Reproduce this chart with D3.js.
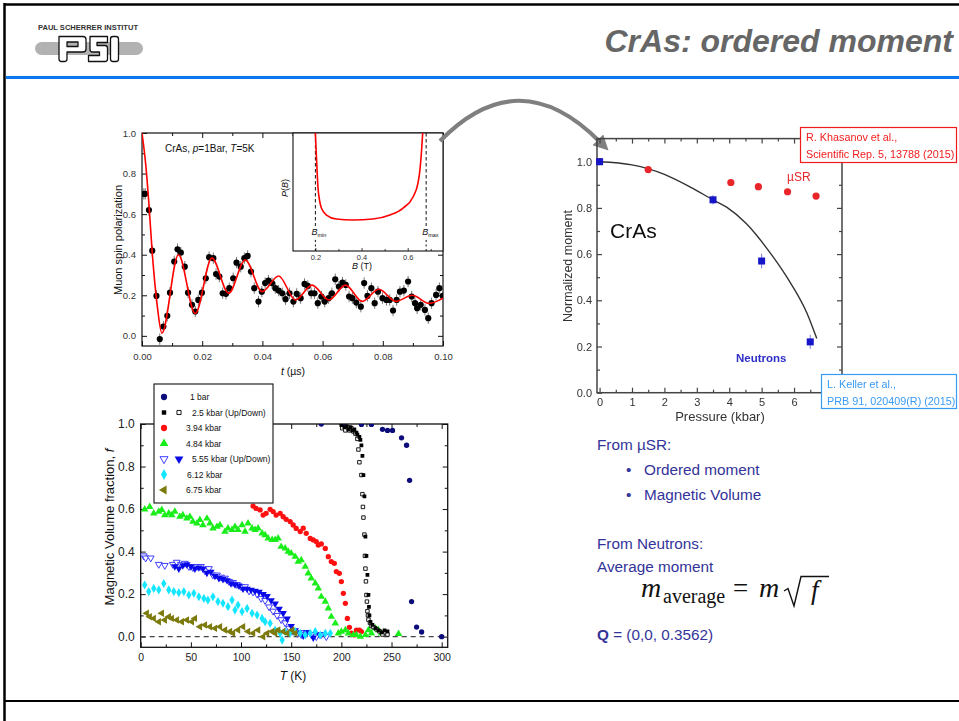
<!DOCTYPE html>
<html><head><meta charset="utf-8">
<script src="https://cdn.jsdelivr.net/npm/d3@7"></script>
<style>
body{margin:0;background:#fff;}
svg{display:block;}
text{font-family:"Liberation Sans",Arial,Helvetica,sans-serif;}
text.serif{font-family:"Liberation Serif","DejaVu Serif",serif;}
</style></head><body>
<svg id="slide" width="959" height="721"></svg>
<script>
// ---------- muon spin polarization, CrAs, p = 1 bar, T = 5 K ----------
const muonData = [[0.0006,0.70],[0.0011,0.70],[0.0023,0.62],[0.0034,0.42],[0.0048,0.197],[0.0059,-0.016],[0.0071,0.046],[0.0084,0.099],[0.0093,0.213],[0.0107,0.366],[0.0118,0.427],[0.0129,0.41],[0.0142,0.341],[0.0153,0.213],[0.0166,0.153],[0.0177,0.12],[0.0187,0.177],[0.0199,0.213],[0.0212,0.284],[0.0223,0.388],[0.0237,0.383],[0.0246,0.305],[0.0257,0.292],[0.0268,0.21],[0.0279,0.207],[0.029,0.235],[0.0303,0.284],[0.0314,0.361],[0.0328,0.341],[0.034,0.383],[0.0351,0.394],[0.0362,0.317],[0.0373,0.235],[0.0387,0.169],[0.0398,0.218],[0.0409,0.26],[0.042,0.272],[0.0432,0.26],[0.0443,0.235],[0.0454,0.223],[0.0466,0.21],[0.0477,0.181],[0.049,0.21],[0.0503,0.169],[0.0514,0.207],[0.0527,0.186],[0.054,0.256],[0.0551,0.246],[0.0562,0.21],[0.0573,0.21],[0.0584,0.161],[0.0596,0.194],[0.0607,0.169],[0.062,0.186],[0.0631,0.21],[0.0642,0.279],[0.0654,0.243],[0.0666,0.263],[0.0677,0.251],[0.0688,0.194],[0.0699,0.186],[0.0712,0.164],[0.0727,0.144],[0.0738,0.26],[0.0749,0.197],[0.0762,0.235],[0.0773,0.161],[0.0784,0.218],[0.0799,0.186],[0.0812,0.177],[0.0823,0.177],[0.0834,0.125],[0.0846,0.177],[0.0857,0.218],[0.087,0.223],[0.0884,0.268],[0.0896,0.194],[0.0907,0.161],[0.0914,0.136],[0.0926,0.153],[0.094,0.128],[0.0951,0.087],[0.0962,0.161],[0.0977,0.202],[0.0988,0.235],[0.0999,0.197]];
const muonFit = [[0,1.0],[0.0012,0.85],[0.0023,0.65],[0.0034,0.41],[0.0051,0.144],[0.0066,0.013],[0.0121,0.40],[0.0177,0.11],[0.0232,0.383],[0.0288,0.21],[0.0343,0.374],[0.0399,0.218],[0.0454,0.295],[0.051,0.177],[0.0565,0.25],[0.0621,0.177],[0.0676,0.25],[0.0732,0.17],[0.0787,0.23],[0.0843,0.17],[0.0898,0.20],[0.0954,0.16],[0.1,0.186]];
const muonTimeTicks = [0, 0.02, 0.04, 0.06, 0.08, 0.10];
const muonPolTicks = [0, 0.2, 0.4, 0.6, 0.8, 1.0];

// ---------- inset: internal field distribution P(B) ----------
const fieldDist = [[0.2,1.0],[0.205,0.78],[0.211,0.545],[0.218,0.43],[0.226,0.364],[0.248,0.305],[0.291,0.271],[0.362,0.263],[0.449,0.271],[0.523,0.305],[0.58,0.364],[0.623,0.458],[0.645,0.58],[0.653,0.686],[0.66,0.85],[0.665,1.0]];
const fieldTicks = [0.2, 0.4, 0.6];
const bMin = 0.2, bMax = 0.68;

// ---------- normalized ordered moment vs pressure ----------
const neutronPressure = [0, 3.5, 5.0, 6.5];
const neutronMoment = [1.0, 0.835, 0.57, 0.22];
const neutronError = [0.008, 0.02, 0.032, 0.03];
const musrPressure = [0, 1.5, 4.05, 4.9, 5.8, 6.68];
const musrMoment = [1.0, 0.966, 0.91, 0.892, 0.87, 0.851];
const guidePressure = [0, 1.0, 2.0, 2.8, 3.5, 3.92, 4.54, 5.16, 5.78, 6.4, 6.7];
const guideMoment = [1.0, 0.986, 0.945, 0.89, 0.835, 0.803, 0.73, 0.625, 0.5, 0.344, 0.235];
const pressureTicks = [0, 1, 2, 3, 4, 5, 6, 7];
const pressureLabels = ["0", "1", "2", "3", "4", "5", "6", ""];
const momentTicks = [0, 0.2, 0.4, 0.6, 0.8, 1.0];

// ---------- magnetic volume fraction vs temperature ----------
const seriesLabels = ["1 bar", "2.5 kbar (Up/Down)", "3.94 kbar", "4.84 kbar", "5.55 kbar (Up/Down)", "6.12 kbar", "6.75 kbar"];
const vf1bar = [[180,1.0],[201,1.0],[220,0.998],[230,0.998],[241,0.975],[246,0.97],[251,0.97],[260,0.935],[265,0.90],[268,0.735],[270,0.165],[275,0.045],[280,0.022],[300,0.0]];
const vf2p5Up = [[200,0.995],[203,0.985],[205,0.99],[207,0.975],[209,0.985],[211,0.97],[213,0.975],[215,0.96],[216,0.95],[218,0.94],[219,0.925],[220,0.90],[221,0.85],[222,0.76],[223,0.66],[224,0.47],[225,0.38],[226,0.29],[227,0.196],[227.5,0.14],[228,0.10],[229,0.07],[231,0.055],[234,0.04],[237,0.03],[240,0.02],[243,0.03],[246,0.025]];
const vf2p5Down = [[201,0.98],[204,0.97],[206,0.985],[208,0.97],[210,0.98],[212,0.965],[214,0.955],[216,0.93],[217,0.88],[218,0.82],[220,0.76],[221,0.67],[221.5,0.61],[222,0.56],[223,0.48],[223.5,0.38],[224,0.32],[224.5,0.26],[225,0.196],[225.5,0.165],[226,0.12],[226.5,0.10],[227,0.08],[228.5,0.065],[230,0.05],[232,0.045],[235,0.035],[238,0.025],[241,0.01],[244,0.02],[246,0.01]];
const vf394 = [[112,0.614],[115,0.603],[119,0.596],[122,0.572],[125,0.58],[129,0.599],[132,0.588],[135,0.572],[139,0.58],[142,0.564],[145,0.552],[149,0.541],[152,0.525],[155,0.509],[159,0.494],[162,0.51],[165,0.486],[169,0.462],[172,0.455],[175,0.447],[177,0.431],[180,0.436],[184,0.415],[187,0.376],[190,0.353],[193,0.345],[195,0.306],[198,0.298],[200,0.259],[202,0.204],[204,0.157],[206,0.086],[208,0.044],[210,0.016],[213,0.008],[215,0.031],[218,0.031],[220,0.024]];
const vf484 = [[4,0.599],[9,0.611],[13,0.58],[18,0.588],[21,0.596],[24,0.572],[28,0.58],[31,0.572],[34,0.588],[39,0.564],[42,0.572],[46,0.556],[49,0.564],[52,0.541],[56,0.533],[59,0.549],[62,0.525],[66,0.556],[69,0.533],[72,0.509],[76,0.517],[79,0.525],[84,0.494],[87,0.509],[91,0.502],[94,0.517],[97,0.502],[101,0.525],[104,0.494],[107,0.533],[111,0.509],[114,0.502],[117,0.509],[121,0.486],[124,0.478],[127,0.462],[131,0.455],[134,0.455],[137,0.462],[140,0.423],[144,0.415],[147,0.40],[150,0.392],[154,0.376],[157,0.353],[160,0.36],[164,0.329],[167,0.298],[170,0.274],[174,0.251],[177,0.227],[180,0.188],[184,0.165],[187,0.133],[190,0.094],[194,0.063],[197,0.016],[200,0.024],[204,0.031],[207,0.016],[212,0.008],[215,0.008],[219,0.0],[224,0.008],[227,0.031],[230,0.016],[234,0.039],[237,0.031],[240,0.016],[257,0.013]];
const vf555Up = [[3,0.38],[5,0.37],[10,0.37],[18,0.34],[24,0.335],[32,0.34],[36,0.35],[40,0.34],[44,0.345],[48,0.33],[52,0.325],[56,0.33],[60,0.33],[64,0.31],[68,0.32],[72,0.29],[76,0.29],[80,0.28],[84,0.275],[88,0.26],[92,0.255],[96,0.245],[100,0.235],[104,0.235],[108,0.215],[112,0.21],[116,0.20],[120,0.18],[124,0.17],[128,0.14],[132,0.12],[136,0.10],[140,0.08],[144,0.065],[148,0.04],[152,0.025],[156,0.015],[160,0.01],[165,0.02],[170,0.01],[175,0.0],[180,0.01],[185,0.0]];
const vf555Down = [[34,0.33],[38,0.32],[42,0.335],[46,0.34],[50,0.33],[54,0.32],[58,0.325],[62,0.32],[66,0.30],[70,0.305],[74,0.285],[78,0.275],[82,0.27],[86,0.265],[90,0.25],[94,0.245],[98,0.24],[102,0.225],[106,0.225],[110,0.22],[114,0.215],[118,0.21],[122,0.20],[126,0.19],[130,0.17],[134,0.155],[138,0.13],[142,0.11],[146,0.085],[150,0.05],[154,0.03],[158,0.02],[162,0.005],[166,0.02],[172,-0.005],[178,0.01]];
const vf612 = [[4,0.243],[8,0.212],[13,0.227],[18,0.22],[23,0.25],[28,0.22],[33,0.212],[38,0.207],[43,0.212],[48,0.196],[53,0.204],[58,0.188],[63,0.18],[67,0.172],[72,0.188],[77,0.165],[82,0.157],[87,0.141],[91,0.172],[94,0.125],[97,0.149],[101,0.118],[106,0.133],[111,0.11],[116,0.102],[121,0.086],[124,0.07],[129,0.063],[134,0.031],[139,0.016],[141,-0.016],[144,0.024],[149,0.016],[154,0.024],[159,0.016],[164,0.008],[169,0.016],[174,0.024],[179,0.008],[184,0.016],[189,0.016]];
const vf675 = [[6,0.11],[9,0.094],[13,0.086],[18,0.07],[21,0.11],[24,0.078],[28,0.094],[31,0.086],[36,0.078],[41,0.07],[46,0.078],[51,0.07],[54,0.086],[59,0.047],[64,0.055],[69,0.047],[74,0.039],[79,0.047],[84,0.031],[89,0.024],[92,0.016],[97,0.031],[102,0.047],[107,0.024],[112,0.016],[117,0.031],[122,0.0],[126,0.016],[131,0.024],[134,0.016],[137,0.031],[142,0.024],[146,0.016],[151,0.031],[154,0.016]];
const temperatureTicks = [0, 50, 100, 150, 200, 250, 300];
const fractionTicks = [0, 0.2, 0.4, 0.6, 0.8, 1.0];

const svg = d3.select("#slide");
const defs = svg.append("defs");

// ---------- shared helper: boxed frame with inward ticks on all sides ----------
function boxAxes(g, x, y, cfg) {
  const [xl, xr] = x.range(), [yb, yt] = y.range();
  const tidy = (sel, fs) => {
    sel.attr("font-family", null).attr("font-size", null);
    sel.select(".domain").remove();
    sel.selectAll("line").attr("stroke", cfg.color).attr("stroke-width", cfg.tickWidth);
    sel.selectAll("text").attr("font-size", fs).attr("fill", cfg.textColor || cfg.color);
  };
  const add = (axis, tr, fs) => g.append("g").attr("transform", tr).call(axis).call(tidy, fs || cfg.fontSize);
  const none = () => "";
  add(d3.axisBottom(x).tickValues(cfg.xMajor).tickSize(-cfg.major).tickSizeOuter(0).tickPadding(cfg.xPad).tickFormat(cfg.xFmt), `translate(0,${yb})`, cfg.xFontSize);
  add(d3.axisLeft(y).tickValues(cfg.yMajor).tickSize(-cfg.major).tickSizeOuter(0).tickPadding(cfg.yPad).tickFormat(cfg.yFmt), `translate(${xl},0)`);
  if (cfg.xMinor) add(d3.axisBottom(x).tickValues(cfg.xMinor).tickSize(-cfg.minor).tickSizeOuter(0).tickFormat(none), `translate(0,${yb})`);
  if (cfg.yMinor) add(d3.axisLeft(y).tickValues(cfg.yMinor).tickSize(-cfg.minor).tickSizeOuter(0).tickFormat(none), `translate(${xl},0)`);
  if (cfg.mirror) {
    add(d3.axisTop(x).tickValues(cfg.xMajor).tickSize(-cfg.major).tickSizeOuter(0).tickFormat(none), `translate(0,${yt})`);
    add(d3.axisRight(y).tickValues(cfg.yMajor).tickSize(-cfg.major).tickSizeOuter(0).tickFormat(none), `translate(${xr},0)`);
    if (cfg.xMinor) add(d3.axisTop(x).tickValues(cfg.xMinor).tickSize(-cfg.minor).tickSizeOuter(0).tickFormat(none), `translate(0,${yt})`);
    if (cfg.yMinor) add(d3.axisRight(y).tickValues(cfg.yMinor).tickSize(-cfg.minor).tickSizeOuter(0).tickFormat(none), `translate(${xr},0)`);
  }
  g.append("rect").attr("x", xl).attr("y", yt).attr("width", xr - xl).attr("height", yb - yt)
    .attr("fill", "none").attr("stroke", cfg.color).attr("stroke-width", cfg.frameWidth);
}
const mids = (arr) => arr.slice(1).map((v, i) => (v + arr[i]) / 2);

// ---------- slide frame and header ----------
svg.append("rect").attr("x", 0).attr("y", 0).attr("width", 959).attr("height", 721).attr("fill", "#fff");
svg.append("line").attr("x1", 4.5).attr("x2", 959).attr("y1", 4.5).attr("y2", 4.5).attr("stroke", "#000").attr("stroke-width", 2.5);
svg.append("line").attr("x1", 4.5).attr("x2", 4.5).attr("y1", 3).attr("y2", 721).attr("stroke", "#000").attr("stroke-width", 2.5);
svg.append("line").attr("x1", 4.5).attr("x2", 959).attr("y1", 701).attr("y2", 701).attr("stroke", "#000").attr("stroke-width", 2);
svg.append("rect").attr("x", 6).attr("y", 76).attr("width", 953).attr("height", 3).attr("fill", "#0a78ee");

const logo = svg.append("g");
logo.append("text").attr("x", 38).attr("y", 29.5).attr("font-size", 7.5).attr("font-weight", "bold").attr("fill", "#333")
  .attr("textLength", 100).attr("lengthAdjust", "spacingAndGlyphs").text("PAUL SCHERRER INSTITUT");
logo.append("rect").attr("x", 35).attr("y", 42).attr("width", 108).attr("height", 13).attr("rx", 6.5).attr("fill", "#b2b2b2");
const psiStyle = p => p.attr("fill", "#fff").attr("stroke", "#111").attr("stroke-width", 1.3).attr("fill-rule", "evenodd").attr("stroke-linejoin", "round");
logo.append("path").attr("d", "M59,36.5 H83 Q86,36.5 86,39.5 V49 Q86,52 83,52 H67 V59 Q67,61.5 64.5,61.5 H61.5 Q59,61.5 59,59 Z M67,42 H78 V46.5 H67 Z").call(psiStyle);
logo.append("path").attr("d", "M90,36.5 H107.5 V42.5 H97 V45.5 H105 Q107.5,45.5 107.5,48 V59 Q107.5,61.5 105,61.5 H88.5 V55.5 H99.5 V52 H92.5 Q90,52 90,49.5 Z").call(psiStyle);
logo.append("rect").attr("x", 110.5).attr("y", 36.5).attr("width", 8).attr("height", 25).attr("rx", 2.5).call(psiStyle);

svg.append("text").attr("x", 953).attr("y", 52).attr("text-anchor", "end").attr("font-size", 32)
  .attr("font-weight", "bold").attr("font-style", "italic").attr("fill", "#666").text("CrAs: ordered moment");

// ---------- panel A: muon spin polarization vs time ----------
const gA = svg.append("g");
const xA = d3.scaleLinear([0, 0.1], [142, 443]);
const yA = d3.scaleLinear([-0.05, 1.0], [346, 133]);
defs.append("clipPath").attr("id", "clipA").append("rect").attr("x", 142).attr("y", 133).attr("width", 301).attr("height", 213);
boxAxes(gA, xA, yA, {
  xMajor: muonTimeTicks, xMinor: mids(muonTimeTicks), yMajor: muonPolTicks, yMinor: mids(muonPolTicks),
  xFmt: d3.format(".2f"), yFmt: d3.format(".1f"), major: 5, minor: 3, xPad: 7, yPad: 6,
  fontSize: 9.5, color: "#111", textColor: "#333", tickWidth: 1, frameWidth: 1.2, mirror: true
});
const dotsA = gA.append("g").attr("clip-path", "url(#clipA)");
dotsA.selectAll("line.err").data(muonData).join("line").attr("class", "err")
  .attr("x1", d => xA(d[0])).attr("x2", d => xA(d[0]))
  .attr("y1", d => yA(d[1] - 0.028)).attr("y2", d => yA(d[1] + 0.028))
  .attr("stroke", "#777").attr("stroke-width", 1);
dotsA.selectAll("circle").data(muonData).join("circle")
  .attr("cx", d => xA(d[0])).attr("cy", d => yA(d[1])).attr("r", 3.1).attr("fill", "#000");
dotsA.append("path").datum(muonFit)
  .attr("d", d3.line().x(d => xA(d[0])).y(d => yA(d[1])).curve(d3.curveMonotoneX))
  .attr("fill", "none").attr("stroke", "#ff0000").attr("stroke-width", 1.6);
gA.append("text").attr("x", 165).attr("y", 152).attr("font-size", 10).attr("fill", "#111")
  .call(t => { t.append("tspan").text("CrAs, "); t.append("tspan").attr("font-style", "italic").text("p");
    t.append("tspan").text("=1Bar, "); t.append("tspan").attr("font-style", "italic").text("T"); t.append("tspan").text("=5K"); });
gA.append("text").attr("transform", "translate(122,240) rotate(-90)").attr("text-anchor", "middle")
  .attr("font-size", 11).attr("fill", "#111").text("Muon spin polarization");
gA.append("text").attr("x", 293).attr("y", 375).attr("text-anchor", "middle").attr("font-size", 10.5).attr("fill", "#111")
  .call(t => { t.append("tspan").attr("font-style", "italic").text("t"); t.append("tspan").text(" (µs)"); });

// ---------- inset: P(B) ----------
const gI = svg.append("g");
const xI = d3.scaleLinear([0.103, 0.753], [293, 443]);
const yI = d3.scaleLinear([0, 1], [251, 133]);
gI.append("rect").attr("x", 293).attr("y", 133).attr("width", 150).attr("height", 118).attr("fill", "#fff");
defs.append("clipPath").attr("id", "clipI").append("rect").attr("x", 293).attr("y", 133).attr("width", 150).attr("height", 118);
boxAxes(gI, xI, yI, {
  xMajor: fieldTicks, xMinor: [0.3, 0.5, 0.7], yMajor: [], yFmt: () => "",
  xFmt: d3.format(".1f"), major: 3, minor: 2, xPad: 4, yPad: 3,
  fontSize: 7.5, color: "#111", textColor: "#333", tickWidth: 0.8, frameWidth: 1.1, mirror: false
});
[bMin, bMax].forEach(b => {
  gI.append("line").attr("x1", xI(b)).attr("x2", xI(b)).attr("y1", 133).attr("y2", 226)
    .attr("stroke", "#111").attr("stroke-width", 1).attr("stroke-dasharray", "3.5,2.5");
  gI.append("line").attr("x1", xI(b)).attr("x2", xI(b)).attr("y1", 240).attr("y2", 251)
    .attr("stroke", "#111").attr("stroke-width", 1).attr("stroke-dasharray", "2,2.5");
});
gI.append("path").datum(fieldDist).attr("clip-path", "url(#clipI)")
  .attr("d", d3.line().x(d => xI(d[0])).y(d => yI(d[1])).curve(d3.curveMonotoneX))
  .attr("fill", "none").attr("stroke", "#ff0000").attr("stroke-width", 1.6);
[["min", xI(bMin) - 4], ["max", xI(bMax) - 4]].forEach(([s, x]) => {
  gI.append("text").attr("x", x).attr("y", 235).attr("font-size", 9).attr("fill", "#111")
    .call(t => { t.append("tspan").attr("font-style", "italic").text("B");
      t.append("tspan").attr("font-size", 5.5).attr("dy", 2).text(s); });
});
gI.append("text").attr("x", 362).attr("y", 269).attr("text-anchor", "middle").attr("font-size", 9).attr("fill", "#111")
  .call(t => { t.append("tspan").attr("font-style", "italic").text("B"); t.append("tspan").text(" (T)"); });
gI.append("text").attr("transform", "translate(288,188) rotate(-90)").attr("text-anchor", "middle").attr("font-size", 9).attr("fill", "#111")
  .call(t => { t.append("tspan").attr("font-style", "italic").text("P"); t.append("tspan").text("(");
    t.append("tspan").attr("font-style", "italic").text("B"); t.append("tspan").text(")"); });

// ---------- connecting arrow ----------
defs.append("marker").attr("id", "arrowHead").attr("viewBox", "0 0 10 10").attr("refX", 2).attr("refY", 5)
  .attr("markerWidth", 4).attr("markerHeight", 3.6).attr("orient", "auto")
  .append("path").attr("d", "M0,0 L10,5 L0,10 Z").attr("fill", "#7f7f7f");
svg.append("path").attr("d", "M440,141 Q519,60 600,142").attr("fill", "none")
  .attr("stroke", "#7f7f7f").attr("stroke-width", 4.2).attr("marker-end", "url(#arrowHead)");

// ---------- panel B: normalized moment vs pressure ----------
defs.append("filter").attr("id", "soft").append("feGaussianBlur").attr("stdDeviation", 0.45);
const gB = svg.append("g").attr("filter", "url(#soft)");
const xB = d3.scaleLinear([-0.08, 7.48], [597, 842]);
const yB = d3.scaleLinear([0, 1.1], [392.7, 138.6]);
boxAxes(gB, xB, yB, {
  xMajor: pressureTicks, xMinor: mids(pressureTicks), yMajor: momentTicks, yMinor: [0.1, 0.3, 0.5, 0.7, 0.9, 1.1],
  xFmt: (d, i) => pressureLabels[i], yFmt: d3.format(".1f"), major: 5, minor: 3, xPad: 6, yPad: 5,
  fontSize: 11, color: "#444", textColor: "#333", tickWidth: 1.2, frameWidth: 1.5, mirror: true
});
gB.append("path").datum(guidePressure.map((p, i) => [p, guideMoment[i]]))
  .attr("d", d3.line().x(d => xB(d[0])).y(d => yB(d[1])).curve(d3.curveMonotoneX))
  .attr("fill", "none").attr("stroke", "#333").attr("stroke-width", 1.4);
gB.selectAll("circle.musr").data(musrPressure.map((p, i) => [p, musrMoment[i]])).join("circle").attr("class", "musr")
  .attr("cx", d => xB(d[0])).attr("cy", d => yB(d[1])).attr("r", 3.6).attr("fill", "#e8262b");
const neutrons = neutronPressure.map((p, i) => [p, neutronMoment[i], neutronError[i]]);
gB.selectAll("line.nerr").data(neutrons).join("line").attr("class", "nerr")
  .attr("x1", d => xB(d[0])).attr("x2", d => xB(d[0])).attr("y1", d => yB(d[1] - d[2])).attr("y2", d => yB(d[1] + d[2]))
  .attr("stroke", "#7a7ad8").attr("stroke-width", 1);
gB.selectAll("rect.neutron").data(neutrons).join("rect").attr("class", "neutron")
  .attr("x", d => xB(d[0]) - 3.5).attr("y", d => yB(d[1]) - 3.5).attr("width", 7).attr("height", 7).attr("fill", "#1515c8");
gB.append("text").attr("x", 610).attr("y", 238).attr("font-size", 21).attr("fill", "#111").text("CrAs");
gB.append("text").attr("x", 787).attr("y", 181).attr("font-size", 12).attr("fill", "#e8262b").text("µSR");
gB.append("text").attr("x", 736).attr("y", 362).attr("font-size", 11.5).attr("font-weight", "bold").attr("fill", "#2e2ec8").text("Neutrons");
gB.append("text").attr("transform", "translate(572,266) rotate(-90)").attr("text-anchor", "middle")
  .attr("font-size", 12.5).attr("fill", "#333").text("Normalized moment");
gB.append("text").attr("x", 720).attr("y", 421).attr("text-anchor", "middle").attr("font-size", 13).attr("fill", "#333").text("Pressure (kbar)");

// reference boxes
const refBox = (x, y, w, h, color, lines) => {
  const g = svg.append("g");
  g.append("rect").attr("x", x).attr("y", y).attr("width", w).attr("height", h).attr("fill", "#fff").attr("stroke", color).attr("stroke-width", 1.2);
  lines.forEach((s, i) => g.append("text").attr("x", x + 5.5).attr("y", y + 13 + i * 17).attr("font-size", 10.8).attr("fill", color).text(s));
};
refBox(800.5, 127.5, 156, 35, "#f01c1c", ["R. Khasanov et al.,", "Scientific Rep. 5, 13788 (2015)"]);
refBox(821.5, 374.5, 135, 34, "#3a9bf5", ["L. Keller et al.,", "PRB 91, 020409(R) (2015)"]);

// ---------- panel C: magnetic volume fraction vs temperature ----------
const gC = svg.append("g");
const xC = d3.scaleLinear([0, 306], [140.7, 447.7]);
const yC = d3.scaleLinear([-0.05, 1.0], [647.3, 424]);
defs.append("clipPath").attr("id", "clipC").append("rect").attr("x", 140.7).attr("y", 424).attr("width", 307).attr("height", 223.3);
boxAxes(gC, xC, yC, {
  xMajor: temperatureTicks, xMinor: mids(temperatureTicks), yMajor: fractionTicks, yMinor: mids(fractionTicks),
  xFmt: d3.format("d"), yFmt: d3.format(".1f"), major: 5, minor: 3, xPad: 6, yPad: 6,
  fontSize: 12, xFontSize: 10.5, color: "#111", textColor: "#222", tickWidth: 1, frameWidth: 1.3, mirror: true
});
gC.append("line").attr("x1", 140.7).attr("x2", 447.7).attr("y1", yC(0)).attr("y2", yC(0))
  .attr("stroke", "#444").attr("stroke-width", 1.2).attr("stroke-dasharray", "5,4");

const series = [
  { data: vf1bar, type: d3.symbolCircle, size: 22, rot: 0, fill: "#0c0c7a", stroke: "none" },
  { data: vf394, type: d3.symbolCircle, size: 22, rot: 0, fill: "#ff1010", stroke: "none" },
  { data: vf484, type: d3.symbolTriangle, size: 24, rot: 0, fill: "#1aee1a", stroke: "none" },
  { data: vf555Up, type: d3.symbolTriangle, size: 20, rot: 180, fill: "#fff", stroke: "#2a2aff" },
  { data: vf555Down, type: d3.symbolTriangle, size: 24, rot: 180, fill: "#0a0ae8", stroke: "none" },
  { data: vf612, type: d3.symbolDiamond, size: 24, rot: 0, fill: "#14e6ff", stroke: "none" },
  { data: vf675, type: d3.symbolTriangle, size: 24, rot: -90, fill: "#7c7a0c", stroke: "none" },
  { data: vf2p5Down, type: d3.symbolSquare, size: 12, rot: 0, fill: "#fff", stroke: "#000" },
  { data: vf2p5Up, type: d3.symbolSquare, size: 14, rot: 0, fill: "#000", stroke: "none" }
];
const dotsC = gC.append("g").attr("clip-path", "url(#clipC)");
series.forEach(s => {
  dotsC.append("g").selectAll("path").data(s.data).join("path")
    .attr("d", d3.symbol().type(s.type).size(s.size))
    .attr("transform", d => `translate(${xC(d[0])},${yC(d[1])}) rotate(${s.rot})`)
    .attr("fill", s.fill).attr("stroke", s.stroke).attr("stroke-width", 0.9);
});
gC.append("text").attr("transform", "translate(114,527) rotate(-90)").attr("text-anchor", "middle")
  .attr("font-size", 13).attr("fill", "#111")
  .call(t => { t.append("tspan").text("Magnetic Volume fraction, "); t.append("tspan").attr("font-style", "italic").text("f"); });
gC.append("text").attr("x", 293).attr("y", 680).attr("text-anchor", "middle").attr("font-size", 12).attr("fill", "#111")
  .call(t => { t.append("tspan").attr("font-style", "italic").text("T"); t.append("tspan").text(" (K)"); });

// legend
const lg = gC.append("g");
lg.append("rect").attr("x", 154).attr("y", 384).attr("width", 119).attr("height", 119).attr("fill", "#fff").attr("stroke", "#111").attr("stroke-width", 1.1);
const legendMarks = [
  [{ s: series[0] }],
  [{ s: series[8] }, { s: series[7], dx: 15 }],
  [{ s: series[1] }],
  [{ s: series[2] }],
  [{ s: series[3] }, { s: series[4], dx: 15 }],
  [{ s: series[5] }],
  [{ s: series[6] }]
];
const legendTextX = [190, 192, 186, 186, 192, 187, 186];
seriesLabels.forEach((label, i) => {
  const yy = 397 + i * 15.5;
  legendMarks[i].forEach(m => {
    lg.append("path").attr("d", d3.symbol().type(m.s.type).size(m.s.size * 1.4)())
      .attr("transform", `translate(${164 + (m.dx || 0)},${yy}) rotate(${m.s.rot})`)
      .attr("fill", m.s.fill).attr("stroke", m.s.stroke).attr("stroke-width", 0.9);
  });
  lg.append("text").attr("x", legendTextX[i]).attr("y", yy + 3).attr("font-size", 8.5).attr("fill", "#111").text(label);
});

// ---------- notes ----------
const notes = svg.append("g").attr("fill", "#333399").attr("font-size", 15.3);
notes.append("text").attr("x", 597).attr("y", 450).text("From µSR:");
["Ordered moment", "Magnetic Volume"].forEach((s, i) => {
  notes.append("text").attr("x", 626).attr("y", 475 + i * 24.5).text("•");
  notes.append("text").attr("x", 644).attr("y", 475 + i * 24.5).text(s);
});
notes.append("text").attr("x", 597).attr("y", 548.5).text("From Neutrons:");
notes.append("text").attr("x", 597).attr("y", 572).text("Average moment");
notes.append("text").attr("x", 597).attr("y", 640)
  .call(t => { t.append("tspan").attr("font-weight", "bold").text("Q"); t.append("tspan").text(" = (0,0, 0.3562)"); });

// m_average = m sqrt(f)
const eq = svg.append("g").attr("fill", "#111");
eq.append("text").attr("class", "serif").attr("x", 641).attr("y", 597).attr("font-size", 28).attr("font-style", "italic").text("m");
eq.append("text").attr("class", "serif").attr("x", 663).attr("y", 603).attr("font-size", 20).text("average");
eq.append("text").attr("class", "serif").attr("x", 733).attr("y", 597).attr("font-size", 27).text("=");
eq.append("text").attr("class", "serif").attr("x", 759).attr("y", 597).attr("font-size", 28).attr("font-style", "italic").text("m");
eq.append("path").attr("d", "M784,591 L788,588.5 L794,606 L801,576.5 H829").attr("fill", "none").attr("stroke", "#111").attr("stroke-width", 1.4);
eq.append("text").attr("class", "serif").attr("x", 811).attr("y", 599).attr("font-size", 27).attr("font-style", "italic").text("f");
</script>
</body></html>
